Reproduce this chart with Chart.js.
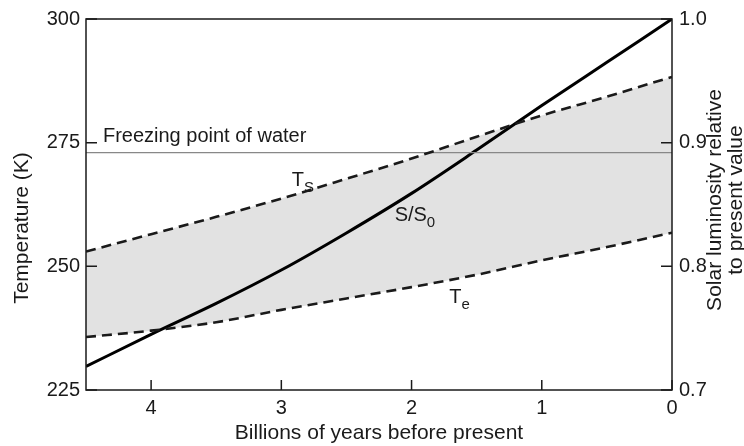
<!DOCTYPE html>
<html>
<head>
<meta charset="utf-8">
<script src="https://cdn.jsdelivr.net/npm/chart.js@4"></script>
<style>
  html, body { margin: 0; padding: 0; background: #fff; }
  #wrap { width: 744px; height: 446px; }
</style>
</head>
<body>
<div id="wrap"><canvas id="sunChart" width="744" height="446"></canvas></div>
<script>
// values
const years = [4.5, 4, 3.5, 3, 2.5, 2, 1.5, 1, 0.5, 0];
const surfaceTemp = [253, 256.5, 260, 263.7, 267.7, 271.8, 276.2, 280.5, 284.3, 288.3];
const effectiveTemp = [235.7, 237, 238.7, 241.2, 243.5, 245.8, 248.3, 251.2, 253.9, 256.8];
const luminosity = [0.719, 0.745, 0.77, 0.797, 0.827, 0.859, 0.894, 0.93, 0.965, 1.0];
const freezingPoint = 273;

const xTicks = [4, 3, 2, 1, 0];
const tempTicks = [225, 250, 275, 300];
const lumTicks = [0.7, 0.8, 0.9, 1.0];

const font = '"Liberation Sans", Arial, sans-serif';
const ink = "#1a1a1a";

function pts(ys) {
  return years.map((x, i) => ({ x, y: ys[i] }));
}

// inward tick marks, frame and in-plot labels
const decorations = {
  id: "decorations",
  afterDatasetsDraw(chart) {
    const { ctx, chartArea: a, scales } = chart;
    const x = scales.x, yl = scales.yTemp, yr = scales.yLum;
    ctx.save();
    ctx.strokeStyle = ink;
    ctx.lineWidth = 1.5;
    ctx.strokeRect(a.left, a.top, a.right - a.left, a.bottom - a.top);

    ctx.beginPath();
    xTicks.forEach(v => {
      const px = x.getPixelForValue(v);
      ctx.moveTo(px, a.bottom);
      ctx.lineTo(px, a.bottom - 10);
    });
    tempTicks.forEach(v => {
      const py = yl.getPixelForValue(v);
      ctx.moveTo(a.left, py);
      ctx.lineTo(a.left + 11, py);
    });
    lumTicks.forEach(v => {
      const py = yr.getPixelForValue(v);
      ctx.moveTo(a.right, py);
      ctx.lineTo(a.right - 11, py);
    });
    ctx.stroke();

    ctx.fillStyle = ink;
    ctx.textBaseline = "middle";
    ctx.textAlign = "left";
    ctx.font = "20px " + font;
    ctx.fillText("Freezing point of water", x.getPixelForValue(4.37), yl.getPixelForValue(276.3));

    function sub(main, small, tx, ty) {
      const px = x.getPixelForValue(tx), py = yl.getPixelForValue(ty);
      ctx.font = "20px " + font;
      const w = ctx.measureText(main).width;
      ctx.fillText(main, px, py);
      ctx.font = "15px " + font;
      ctx.fillText(small, px + w, py + 7);
    }
    sub("T", "S", 2.92, 267.3);
    sub("S/S", "0", 2.13, 260.3);
    sub("T", "e", 1.71, 243.7);

    // axis titles
    ctx.font = "21px " + font;
    ctx.textAlign = "center";
    ctx.fillText("Billions of years before present", (a.left + a.right) / 2, 433);

    ctx.save();
    ctx.translate(22, 228);
    ctx.rotate(-Math.PI / 2);
    ctx.fillText("Temperature (K)", 0, 0);
    ctx.restore();

    ctx.save();
    ctx.translate(715, 200);
    ctx.rotate(-Math.PI / 2);
    ctx.fillText("Solar luminosity relative", 0, 0);
    ctx.fillText("to present value", 0, 21);
    ctx.restore();

    ctx.restore();
  }
};

new Chart(document.getElementById("sunChart"), {
  type: "line",
  data: {
    datasets: [
      {
        label: "Ts",
        data: pts(surfaceTemp),
        yAxisID: "yTemp",
        borderColor: ink,
        borderWidth: 2.6,
        borderDash: [10, 6],
        pointRadius: 0,
        cubicInterpolationMode: "monotone",
        fill: "+1",
        backgroundColor: "#e2e2e2"
      },
      {
        label: "Te",
        data: pts(effectiveTemp),
        yAxisID: "yTemp",
        borderColor: ink,
        borderWidth: 2.6,
        borderDash: [10, 6],
        pointRadius: 0,
        cubicInterpolationMode: "monotone",
        fill: false
      },
      {
        label: "Freezing point",
        data: [{ x: 4.5, y: freezingPoint }, { x: 0, y: freezingPoint }],
        yAxisID: "yTemp",
        borderColor: "#888",
        borderWidth: 1.3,
        pointRadius: 0,
        fill: false
      },
      {
        label: "S/S0",
        data: pts(luminosity),
        yAxisID: "yLum",
        borderColor: "#000",
        borderWidth: 3,
        pointRadius: 0,
        cubicInterpolationMode: "monotone",
        fill: false
      }
    ]
  },
  options: {
    responsive: false,
    animation: false,
    layout: { padding: { top: 18 } },
    plugins: {
      legend: { display: false },
      tooltip: { enabled: false },
      filler: { drawTime: "beforeDatasetsDraw" }
    },
    scales: {
      x: {
        type: "linear",
        reverse: true,
        min: 0,
        max: 4.5,
        grid: { display: false, drawTicks: false },
        border: { display: false },
        afterFit(s) { s.height = 56; },
        afterBuildTicks(s) { s.ticks = xTicks.map(v => ({ value: v })); },
        ticks: { color: ink, padding: 6, font: { family: font, size: 20 } }
      },
      yTemp: {
        type: "linear",
        position: "left",
        min: 225,
        max: 300,
        grid: { display: false, drawTicks: false },
        border: { display: false },
        afterFit(s) { s.width = 86; },
        afterBuildTicks(s) { s.ticks = tempTicks.map(v => ({ value: v })); },
        ticks: { color: ink, padding: 6, font: { family: font, size: 20 } }
      },
      yLum: {
        type: "linear",
        position: "right",
        min: 0.7,
        max: 1.0,
        grid: { display: false, drawTicks: false },
        border: { display: false },
        afterFit(s) { s.width = 72; },
        afterBuildTicks(s) { s.ticks = lumTicks.map(v => ({ value: v })); },
        ticks: {
          color: ink,
          padding: 7,
          font: { family: font, size: 20 },
          callback: v => v.toFixed(1)
        }
      }
    }
  },
  plugins: [decorations]
});
</script>
</body>
</html>
